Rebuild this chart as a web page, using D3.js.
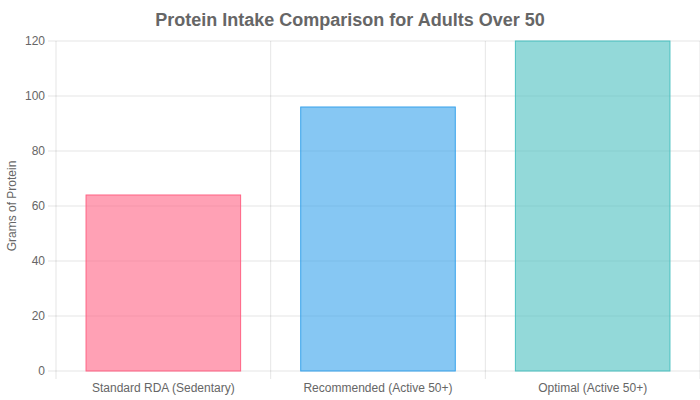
<!DOCTYPE html>
<html><head><meta charset="utf-8">
<script src="https://cdn.jsdelivr.net/npm/d3@7"></script>
<style>body{margin:0;background:#fff}svg{display:block;font-family:"Liberation Sans",Arial,sans-serif}</style>
</head><body><svg id="c" width="700" height="400"></svg>
<script>
const categories = ["Standard RDA (Sedentary)", "Recommended (Active 50+)", "Optimal (Active 50+)"];
const values = [64, 96, 120];
const fills = ["rgba(255,99,132,0.6)", "rgba(54,162,235,0.6)", "rgba(75,192,192,0.6)"];
const strokes = ["rgb(255,99,132)", "rgb(54,162,235)", "rgb(75,192,192)"];
const yTicks = [0, 20, 40, 60, 80, 100, 120];

const svg = d3.select("#c");
const L = 56, R = 700, T = 41, B = 371;
const x = d3.scaleBand().domain(categories).range([L, R]).paddingInner(0).paddingOuter(0);
const y = d3.scaleLinear().domain([0, 120]).range([B, T]);
const grid = "rgba(0,0,0,0.1)";

// horizontal grid
svg.append("g").selectAll("line").data(yTicks).join("line")
  .attr("x1", L - 8).attr("x2", R).attr("y1", d => y(d)).attr("y2", d => y(d))
  .attr("stroke", grid);
// vertical grid
const vx = categories.map(c => x(c)).concat([R]);
svg.append("g").selectAll("line").data(vx).join("line")
  .attr("x1", d => d).attr("x2", d => d).attr("y1", T).attr("y2", B + 8)
  .attr("stroke", grid);

// bars
const bw = x.bandwidth() * 0.72;
svg.append("g").selectAll("rect").data(values).join("rect")
  .attr("x", (d, i) => x(categories[i]) + (x.bandwidth() - bw) / 2)
  .attr("width", bw)
  .attr("y", d => y(d)).attr("height", d => B - y(d))
  .attr("fill", (d, i) => fills[i]).attr("stroke", (d, i) => strokes[i]).attr("stroke-width", 1);

// y tick labels
svg.append("g").selectAll("text").data(yTicks).join("text")
  .attr("x", 45).attr("y", d => y(d)).attr("dy", "0.35em").attr("text-anchor", "end")
  .attr("font-size", 12).attr("fill", "#666").text(d => d);
// x labels
svg.append("g").selectAll("text").data(categories).join("text")
  .attr("x", d => x(d) + x.bandwidth() / 2).attr("y", 392).attr("text-anchor", "middle")
  .attr("font-size", 12).attr("fill", "#666").text(d => d);

svg.append("text").attr("transform", "translate(16," + ((T + B) / 2) + ") rotate(-90)")
  .attr("text-anchor", "middle").attr("font-size", 12).attr("fill", "#666").text("Grams of Protein");
svg.append("text").attr("x", 350).attr("y", 26).attr("text-anchor", "middle")
  .attr("font-size", 18).attr("font-weight", "bold").attr("fill", "#666")
  .text("Protein Intake Comparison for Adults Over 50");
</script></body></html>
